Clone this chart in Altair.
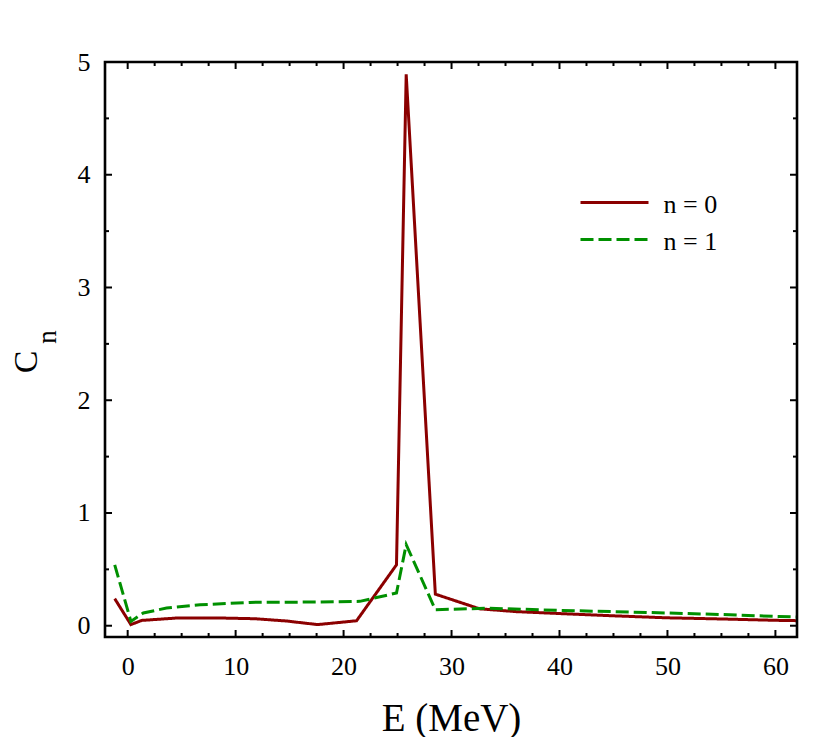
import altair as alt
import pandas as pd

# ---- data ----
e_n0 = [-1.2, 0.3, 1.3, 4.5, 8.8, 11.8, 14.7, 17.6, 21.2, 24.9, 25.8, 28.5, 32.6, 36.0, 40.0, 45.0, 50.0, 55.0, 60.0, 62.0]
c_n0 = [0.24, 0.01, 0.047, 0.068, 0.068, 0.062, 0.042, 0.01, 0.044, 0.54, 4.89, 0.28, 0.15, 0.125, 0.108, 0.088, 0.07, 0.06, 0.048, 0.045]

e_n1 = [-1.2, 0.3, 1.45, 3.6, 6.7, 11.3, 17.5, 21.5, 24.9, 25.8, 28.5, 33.5, 40.0, 45.0, 50.0, 55.0, 60.0, 62.0]
c_n1 = [0.54, 0.038, 0.113, 0.157, 0.186, 0.207, 0.21, 0.216, 0.29, 0.72, 0.142, 0.155, 0.136, 0.125, 0.113, 0.1, 0.083, 0.077]

series_names = ["n = 0", "n = 1"]
series_colors = ["#8b0000", "#009000"]

x_major = [0, 10, 20, 30, 40, 50, 60]
x_minor = [2.5, 5, 7.5, 12.5, 15, 17.5, 22.5, 25, 27.5, 32.5, 35, 37.5, 42.5, 45, 47.5, 52.5, 55, 57.5]
y_major = [0, 1, 2, 3, 4, 5]
y_minor = [0.5, 1.5, 2.5, 3.5, 4.5]

X_DOMAIN = [-2.1, 62.0]
Y_DOMAIN = [-0.1, 5.0]
W, H = 692, 575
FONT = "Liberation Serif"
LW = 3

df = pd.concat([
    pd.DataFrame({"E": e_n0, "C": c_n0, "series": series_names[0]}),
    pd.DataFrame({"E": e_n1, "C": c_n1, "series": series_names[1]}),
])

xs = alt.Scale(domain=X_DOMAIN, nice=False, zero=False)
ys = alt.Scale(domain=Y_DOMAIN, nice=False, zero=False)

lines = alt.Chart(df).mark_line(strokeWidth=LW, clip=True).encode(
    x=alt.X("E:Q", scale=xs, axis=alt.Axis(
        values=x_major, format="d", ticks=False, domain=False, grid=False,
        labelFont=FONT, labelFontSize=26, labelFontWeight="normal", labelColor="black", labelPadding=16,
        title="E (MeV)", titleFont=FONT, titleFontSize=39, titleFontWeight="normal",
        titleColor="black", titlePadding=20)),
    y=alt.Y("C:Q", scale=ys, axis=alt.Axis(
        values=y_major, format="d", ticks=False, domain=False, grid=False,
        labelFont=FONT, labelFontSize=26, labelFontWeight="normal", labelColor="black", labelPadding=15,
        title=None)),
    color=alt.Color("series:N", scale=alt.Scale(domain=series_names, range=series_colors), legend=None),
    strokeDash=alt.StrokeDash("series:N", scale=alt.Scale(domain=series_names, range=[[1, 0], [13, 5]]), legend=None),
)

def xticks(vals, length):
    d = pd.DataFrame({"v": vals})
    bottom = alt.Chart(d).mark_rule(color="black", strokeWidth=2).encode(
        x=alt.X("v:Q", scale=xs), y=alt.value(H), y2=alt.value(H - length))
    top = alt.Chart(d).mark_rule(color="black", strokeWidth=2).encode(
        x=alt.X("v:Q", scale=xs), y=alt.value(0), y2=alt.value(length))
    return [bottom, top]

def yticks(vals, length):
    d = pd.DataFrame({"v": vals})
    left = alt.Chart(d).mark_rule(color="black", strokeWidth=2).encode(
        y=alt.Y("v:Q", scale=ys), x=alt.value(0), x2=alt.value(length))
    right = alt.Chart(d).mark_rule(color="black", strokeWidth=2).encode(
        y=alt.Y("v:Q", scale=ys), x=alt.value(W), x2=alt.value(W - length))
    return [left, right]

ticks = xticks(x_major, 7) + xticks(x_minor, 4) + yticks(y_major, 7) + yticks(y_minor, 4)

one = pd.DataFrame({"k": [0]})

# frame around the plot area
frame = alt.Chart(one).mark_rect(fill=None, stroke="black", strokeWidth=2.6).encode(
    x=alt.value(0), x2=alt.value(W), y=alt.value(0), y2=alt.value(H))

# y-axis title C_n (rotated, with subscript)
ytitle_c = alt.Chart(one).mark_text(text="C", font=FONT, fontSize=34, angle=270,
                                    align="center", baseline="middle", color="black").encode(
    x=alt.value(-78), y=alt.value(300))
ytitle_n = alt.Chart(one).mark_text(text="n", font=FONT, fontSize=27, angle=270,
                                    align="center", baseline="middle", color="black").encode(
    x=alt.value(-57), y=alt.value(275))

# legend
leg = []
for i, (name, col) in enumerate(zip(series_names, series_colors)):
    yy = 140.5 + i * 37
    dash = [1, 0] if i == 0 else [13, 5]
    leg.append(alt.Chart(one).mark_rule(color=col, strokeWidth=LW, strokeDash=dash).encode(
        x=alt.value(475.5), x2=alt.value(543.5), y=alt.value(yy)))
    leg.append(alt.Chart(one).mark_text(text=name, font=FONT, fontSize=26, align="left",
                                        baseline="middle", color="black").encode(
        x=alt.value(558.5), y=alt.value(yy + 2)))

chart = alt.layer(lines, *ticks, frame, ytitle_c, ytitle_n, *leg).properties(
    width=W, height=H,
    background="white",
    autosize=alt.AutoSizeParams(type="none"),
    padding={"left": 97, "top": 54, "right": 20, "bottom": 100},
).configure_view(stroke=None)

chart.save("out.html", embed_options={"renderer": "svg", "actions": False})
